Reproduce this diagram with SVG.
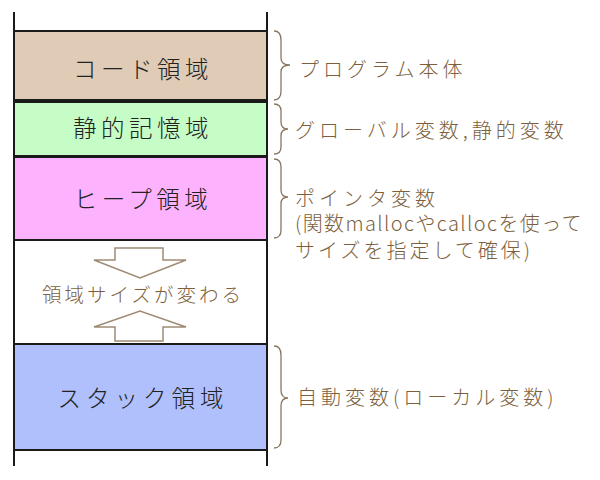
<svg xmlns="http://www.w3.org/2000/svg" width="600" height="480" viewBox="0 0 600 480">
<style>
.box{stroke:#1a1a1a;stroke-width:2}
.lbl{font-family:"Noto Sans CJK JP","Noto Sans",sans-serif;font-size:23.5px;font-weight:300;fill:#222;text-anchor:middle;letter-spacing:4.5px}
.note{font-family:"Noto Sans CJK JP","Noto Sans",sans-serif;font-size:20px;font-weight:300;fill:#7d5f3e;letter-spacing:4px}
.brace{fill:none;stroke:#8a7560;stroke-width:1.3}
.arrow{fill:#fff;stroke:#a08a74;stroke-width:1.5}
</style>
<rect width="600" height="480" fill="#fff"/>
<g id="code-area">
<rect class="box" x="14" y="31" width="253" height="69" fill="#dfcbb6"/>
<text class="lbl" x="143" y="78">コード領域</text>
</g>
<g id="static-area">
<rect class="box" x="14" y="102" width="253" height="54" fill="#c6fcc6"/>
<text class="lbl" x="143" y="137">静的記憶域</text>
</g>
<g id="heap-area">
<rect class="box" x="14" y="157" width="253" height="83" fill="#fdb2fd"/>
<text class="lbl" x="143" y="208">ヒープ領域</text>
</g>
<g id="free-area">
<rect class="box" x="14" y="240" width="253" height="104" fill="#fff"/>
<path class="arrow" d="M115,248 H163 V260 H186 L140,278 L94,260 H115 Z"/>
<text class="note" x="143" y="302" text-anchor="middle" style="font-size:19.5px;letter-spacing:3px">領域サイズが変わる</text>
<path class="arrow" d="M115,341 H163 V327 H186 L140,311 L94,327 H115 Z"/>
</g>
<g id="stack-area">
<rect class="box" x="14" y="344" width="253" height="106" fill="#b0c0fd"/>
<text class="lbl" x="143" y="407" style="letter-spacing:5px">スタック領域</text>
</g>
<g id="walls">
<line class="box" x1="14" y1="12" x2="14" y2="466"/>
<line class="box" x1="267" y1="12" x2="267" y2="466"/>
</g>
<g id="connectors">
<path class="brace" d="M274,31 Q281,31 281,40 V58 Q281,65 290,65 Q281,65 281,72 V91 Q281,100 274,100"/>
<path class="brace" d="M274,104 Q281,104 281,111 V122 Q281,129 288,129 Q281,129 281,136 V147 Q281,154 274,154"/>
<path class="brace" d="M274,159 Q281,159 281,167 V190 Q281,197 288,197 Q281,197 281,204 V230 Q281,238 274,238"/>
<path class="brace" d="M274,346 Q281,346 281,355 V390 Q281,398 288,398 Q281,398 281,406 V440 Q281,448 274,448"/>
</g>
<g id="notes">
<text class="note" x="299" y="77">プログラム本体</text>
<text class="note" x="295" y="138">グローバル変数,静的変数</text>
<text class="note"><tspan x="295" y="206">ポインタ変数</tspan><tspan x="295" y="231" style="letter-spacing:1.4px">(関数mallocやcallocを使って</tspan><tspan x="295" y="258" style="letter-spacing:3px">サイズを指定して確保)</tspan></text>
<text class="note" x="297" y="405" style="letter-spacing:4px">自動変数(ローカル変数)</text>
</g>
</svg>
